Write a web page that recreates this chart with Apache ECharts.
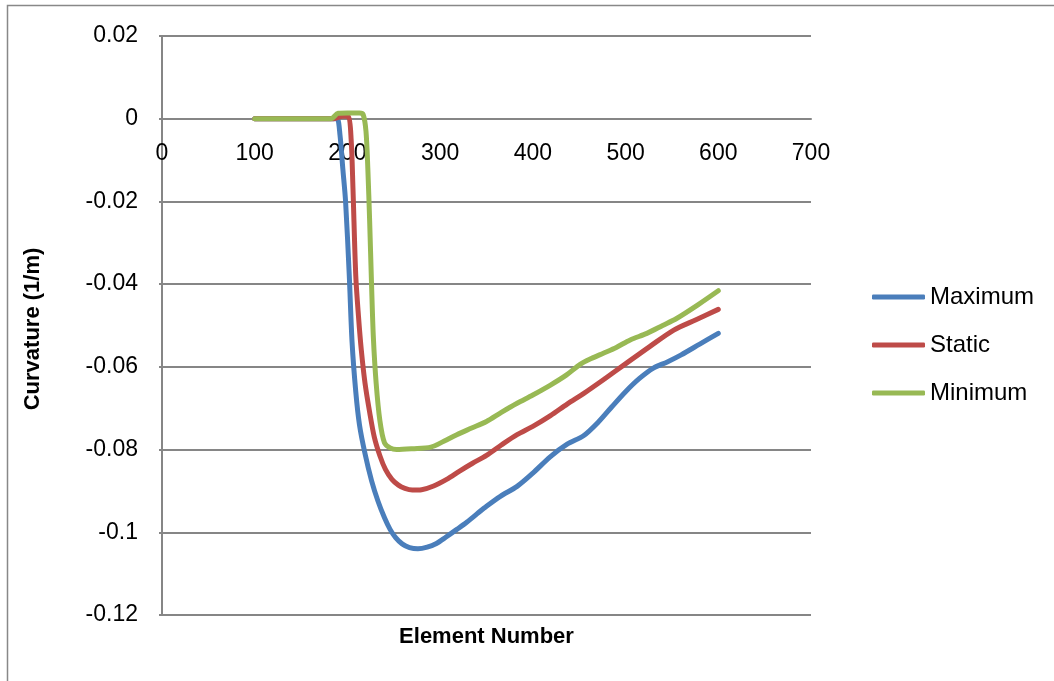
<!DOCTYPE html>
<html>
<head>
<meta charset="utf-8">
<script src="https://cdn.jsdelivr.net/npm/echarts@6/dist/echarts.min.js"></script>
<style>html,body{margin:0;padding:0;background:#fff}#c{width:1054px;height:681px}</style>
</head>
<body>
<div id="c"></div>
<script>
const seriesNames = ['Maximum', 'Static', 'Minimum'];
const xTicks = [0, 100, 200, 300, 400, 500, 600, 700];
const yTicks = [0.02, 0, -0.02, -0.04, -0.06, -0.08, -0.1, -0.12];

const maxX = [100, 150, 185, 189, 192, 195, 198, 202, 205, 209, 213, 219, 226, 233, 240, 246, 252, 259, 267, 276, 286, 296, 306, 318, 329, 340, 350, 365, 383, 400, 419, 437, 455, 470, 485, 500, 515, 530, 545, 560, 580, 600];
const maxY = [0, 0, 0, 0, -0.004, -0.012, -0.02, -0.038, -0.054, -0.066, -0.074, -0.081, -0.0875, -0.0925, -0.0965, -0.0993, -0.1013, -0.1028, -0.1037, -0.104, -0.1036, -0.1027, -0.1012, -0.0993, -0.0975, -0.0955, -0.0937, -0.0913, -0.0889, -0.0857, -0.0817, -0.0787, -0.0766, -0.0735, -0.0697, -0.066, -0.0628, -0.0603, -0.0588, -0.0571, -0.0545, -0.0519];

const staX = [100, 150, 185, 195, 201, 204, 206, 209, 212, 215, 219, 224, 229, 235, 241, 248, 255, 262, 270, 280, 293, 307, 321, 335, 350, 366, 383, 400, 419, 437, 455, 478, 501, 526, 552, 576, 600];
const staY = [0, 0, 0, 0.0006, 0.0005, -0.005, -0.017, -0.038, -0.048, -0.056, -0.064, -0.071, -0.077, -0.0815, -0.0848, -0.0872, -0.0886, -0.0894, -0.0898, -0.0897, -0.0888, -0.0872, -0.0852, -0.0833, -0.0814, -0.0789, -0.0764, -0.0744, -0.0718, -0.069, -0.0664, -0.0628, -0.0591, -0.0551, -0.0511, -0.0486, -0.0461];

const minX = [100, 150, 182, 190, 200, 213, 217, 220, 222, 224, 226, 228, 231, 235, 240, 246, 253, 270, 290, 304, 318, 334, 350, 366, 383, 400, 419, 436, 451, 463, 476, 490, 505, 523, 540, 555, 578, 600];
const minY = [0, 0, 0, 0.0013, 0.0014, 0.0014, 0.001, -0.003, -0.012, -0.025, -0.04, -0.053, -0.064, -0.073, -0.0784, -0.0796, -0.080, -0.0798, -0.0794, -0.078, -0.0764, -0.0748, -0.0732, -0.071, -0.0688, -0.0668, -0.0644, -0.062, -0.0594, -0.058, -0.0567, -0.0553, -0.0535, -0.0519, -0.050, -0.0483, -0.045, -0.0416];

const colors = ['#4A7EBB', '#BE4B48', '#98B954'];
const FONT = '"Liberation Sans", "Open Sans", sans-serif';

function pairs(xs, ys) { return xs.map((x, i) => [x, ys[i]]); }
const dataSets = [pairs(maxX, maxY), pairs(staX, staY), pairs(minX, minY)];

const left = 162, right = 1054 - 243;
const chart = echarts.init(document.getElementById('c'), null, {renderer: 'canvas'});
const option = {
  animation: false,
  backgroundColor: '#ffffff',
  color: colors,
  grid: {left: 162, right: 243, top: 36, bottom: 66, containLabel: false},
  xAxis: {
    type: 'value', position: 'bottom', offset: 0,
    min: xTicks[0], max: xTicks[xTicks.length - 1], interval: 100,
    axisLine: {show: true, onZero: false, lineStyle: {color: '#868686', width: 2}},
    axisTick: {show: false},
    splitLine: {show: false},
    axisLabel: {color: '#000', fontSize: 23, fontFamily: FONT, margin: 23}
  },
  yAxis: {
    type: 'value',
    min: yTicks[yTicks.length - 1], max: yTicks[0], interval: 0.02,
    axisLine: {show: true, onZero: false, lineStyle: {color: '#868686', width: 2}},
    axisTick: {show: true, length: 3, lineStyle: {color: '#868686', width: 2}},
    splitLine: {show: true, lineStyle: {color: '#868686', width: 2}},
    axisLabel: {color: '#000', fontSize: 23, fontFamily: FONT, margin: 24,
      formatter: v => { const r = Math.round(v * 1000) / 1000; return r === 0 ? '0' : String(r); }}
  },
  legend: {
    orient: 'vertical', left: 872, top: 285, padding: 0,
    icon: 'roundRect',
    itemWidth: 53, itemHeight: 5, itemGap: 24,
    textStyle: {color: '#000', fontSize: 24, fontFamily: FONT},
    data: seriesNames
  },
  series: seriesNames.map((n, i) => ({
    name: n, type: 'line', data: dataSets[i],
    showSymbol: false, symbol: 'none',
    smooth: 0.3,
    lineStyle: {width: 5, color: colors[i], cap: 'round', join: 'round'},
    itemStyle: {color: colors[i]},
    z: 3
  })),
  graphic: [
    {type: 'rect', shape: {x: 7.5, y: 5.5, width: 1200, height: 800},
     style: {fill: 'none', stroke: '#888', lineWidth: 1.5}, silent: true},
    {type: 'text', x: 33, y: 329, rotation: Math.PI / 2,
     style: {text: 'Curvature (1/m)', font: 'bold 22px ' + FONT, fill: '#000', align: 'center', verticalAlign: 'middle'}},
    {type: 'text', x: (left + right) / 2, y: 637,
     style: {text: 'Element Number', font: 'bold 22px ' + FONT, fill: '#000', align: 'center', verticalAlign: 'middle'}}
  ]
};
chart.setOption(option);
// Move the x axis up so that it crosses the y axis at value 0 (as in the reference)
const yZero = chart.convertToPixel({yAxisIndex: 0}, 0);
const yBottom = chart.convertToPixel({yAxisIndex: 0}, yTicks[yTicks.length - 1]);
chart.setOption({xAxis: {offset: -(yBottom - yZero)}});
</script>
</body>
</html>
